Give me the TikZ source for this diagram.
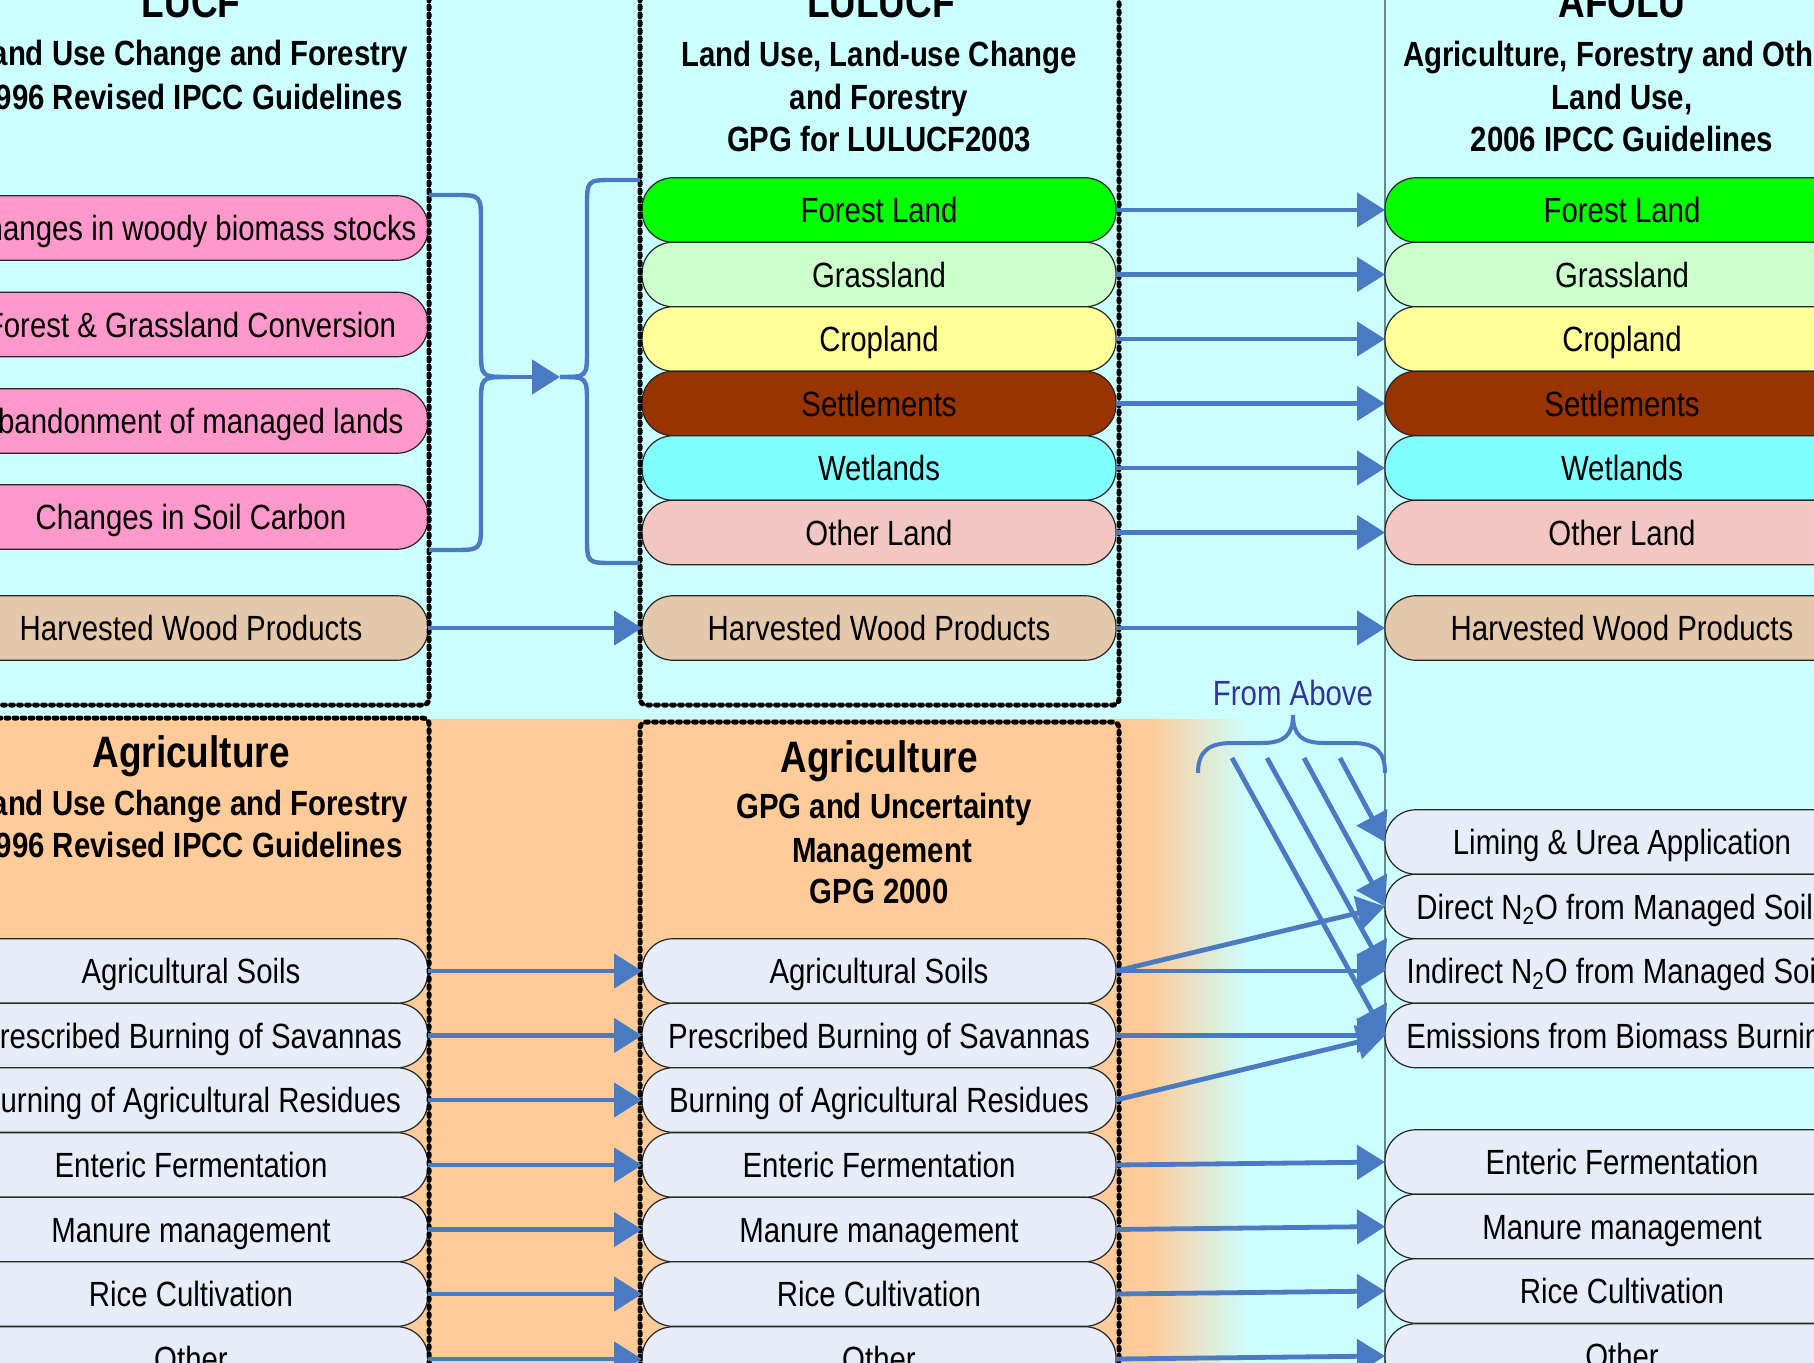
\documentclass[tikz,border=0pt]{standalone}
\usepackage{fontspec}
\setmainfont{Liberation Sans}[FakeStretch=0.84]
\usetikzlibrary{arrows.meta}
\definecolor{bgc}{HTML}{CCFFFF}
\definecolor{orangec}{HTML}{FFCC99}
\definecolor{pinkc}{HTML}{FF99CC}
\definecolor{hwpc}{HTML}{E3C8AC}
\definecolor{forestc}{HTML}{00FF00}
\definecolor{grassc}{HTML}{CCFFCC}
\definecolor{cropc}{HTML}{FFFF99}
\definecolor{settlec}{HTML}{993300}
\definecolor{wetc}{HTML}{80FFFF}
\definecolor{otherc}{HTML}{F2C7C3}
\definecolor{agric}{HTML}{E7EDF8}
\definecolor{arrowblue}{HTML}{4A7AC2}
\definecolor{abovec}{HTML}{333399}
\definecolor{vlinec}{HTML}{6A8A8A}
\begin{document}
\begin{tikzpicture}[x=0.5pt,y=-0.5pt,
  pill/.style={draw=black!85, line width=0.6pt, rounded corners=15.5pt,
    minimum width=237pt, minimum height=32.25pt, inner sep=0pt, outer sep=0pt,
    text height=12.8pt, text depth=0pt, font=\fontsize{17.5}{21}\selectfont},
  conn/.style={draw=arrowblue, line width=2.4pt, -{Triangle[length=14pt,width=17pt]}},
  bline/.style={draw=arrowblue, line width=2.2pt},
  dbox/.style={draw=black, line width=2.5pt, dash pattern=on 1.4pt off 2.6pt, line cap=round, rounded corners=3pt},
  ttl/.style={font=\fontsize{22}{26}\selectfont\bfseries, anchor=base, inner sep=0pt},
  sub/.style={font=\fontsize{17.5}{21}\selectfont\bfseries, anchor=base, inner sep=0pt}]
\useasboundingbox (0,0) rectangle (1814,1363);
\clip (0,0) rectangle (1814,1363);
% backgrounds
\fill[bgc] (0,0) rectangle (1814,1363);
\fill[orangec] (0,719) rectangle (1151,1363);
\shade[left color=orangec, right color=bgc] (1150,719) rectangle (1250,1363);
\draw[vlinec, line width=1pt] (1385,-5) -- (1385,1370);

% ---------- upper: column 1 ----------
\node[pill, fill=pinkc] (a1) at (191,228) {Changes in woody biomass stocks};
\node[pill, fill=pinkc] (a2) at (191,324.5) {Forest \& Grassland Conversion};
\node[pill, fill=pinkc] (a3) at (191,421) {Abandonment of managed lands};
\node[pill, fill=pinkc] (a4) at (191,517) {Changes in Soil Carbon};
\node[pill, fill=hwpc] (a5) at (191,628) {Harvested Wood Products};

% ---------- upper: column 2 ----------
\node[pill, fill=forestc] (b1) at (879,210) {Forest Land};
\node[pill, fill=grassc] (b2) at (879,274.5) {Grassland};
\node[pill, fill=cropc] (b3) at (879,339) {Cropland};
\node[pill, fill=settlec] (b4) at (879,403.5) {Settlements};
\node[pill, fill=wetc] (b5) at (879,468) {Wetlands};
\node[pill, fill=otherc] (b6) at (879,532.5) {Other Land};
\node[pill, fill=hwpc] (b7) at (879,628) {Harvested Wood Products};

% ---------- upper: column 3 ----------
\node[pill, fill=forestc] (c1) at (1622,210) {Forest Land};
\node[pill, fill=grassc] (c2) at (1622,274.5) {Grassland};
\node[pill, fill=cropc] (c3) at (1622,339) {Cropland};
\node[pill, fill=settlec] (c4) at (1622,403.5) {Settlements};
\node[pill, fill=wetc] (c5) at (1622,468) {Wetlands};
\node[pill, fill=otherc] (c6) at (1622,532.5) {Other Land};
\node[pill, fill=hwpc] (c7) at (1622,628) {Harvested Wood Products};

% ---------- lower: column 1 ----------
\node[pill, fill=agric] (d1) at (191,971) {Agricultural Soils};
\node[pill, fill=agric] (d2) at (191,1035.5) {Prescribed Burning of Savannas};
\node[pill, fill=agric] (d3) at (191,1100) {Burning of Agricultural Residues};
\node[pill, fill=agric] (d4) at (191,1165) {Enteric Fermentation};
\node[pill, fill=agric] (d5) at (191,1229.5) {Manure management};
\node[pill, fill=agric] (d6) at (191,1294) {Rice Cultivation};
\node[pill, fill=agric] (d7) at (191,1359) {Other};

% ---------- lower: column 2 ----------
\node[pill, fill=agric] (e1) at (879,971) {Agricultural Soils};
\node[pill, fill=agric] (e2) at (879,1035.5) {Prescribed Burning of Savannas};
\node[pill, fill=agric] (e3) at (879,1100) {Burning of Agricultural Residues};
\node[pill, fill=agric] (e4) at (879,1165) {Enteric Fermentation};
\node[pill, fill=agric] (e5) at (879,1229.5) {Manure management};
\node[pill, fill=agric] (e6) at (879,1294) {Rice Cultivation};
\node[pill, fill=agric] (e7) at (879,1359) {Other};

% ---------- lower: column 3 ----------
\node[pill, fill=agric] (f1) at (1622,842) {Liming \& Urea Application};
\node[pill, fill=agric] (f2) at (1622,906.5) {Direct N\textsubscript{2}O from Managed Soils};
\node[pill, fill=agric] (f3) at (1622,971) {Indirect N\textsubscript{2}O from Managed Soils};
\node[pill, fill=agric] (f4) at (1622,1035.5) {Emissions from Biomass Burning};
\node[pill, fill=agric] (f5) at (1622,1162) {Enteric Fermentation};
\node[pill, fill=agric] (f6) at (1622,1226.5) {Manure management};
\node[pill, fill=agric] (f7) at (1622,1291) {Rice Cultivation};
\node[pill, fill=agric] (f8) at (1622,1356) {Other};

% ---------- dashed boxes ----------
\draw[dbox] (429,-10) -- (429,705) -- (-10,705);
\draw[dbox] (-10,718) -- (429,718) -- (429,1375);
\draw[dbox] (640,-10) -- (640,705) -- (1119,705) -- (1119,-10);
\draw[dbox] (640,1375) -- (640,722) -- (1119,722) -- (1119,1375);

% ---------- titles ----------
\node[ttl] (t1) at (191,18) {LUCF};
\node[sub] (t1a) at (191,66) {Land Use Change and Forestry};
\node[sub] (t1b) at (191,110) {1996 Revised IPCC Guidelines};
\node[ttl] (t2) at (881,18) {LULUCF};
\node[sub] (t2a) at (879,67) {Land Use, Land-use Change};
\node[sub] (t2b) at (879,110) {and Forestry};
\node[sub] (t2c) at (879,152) {GPG for LULUCF2003};
\node[ttl] (t3) at (1622,18) {AFOLU};
\node[sub] (t3a) at (1622,67) {Agriculture, Forestry and Other};
\node[sub] (t3b) at (1622,110) {Land Use,};
\node[sub] (t3c) at (1622,152) {2006 IPCC Guidelines};
\node[ttl] (t4) at (191,767) {Agriculture};
\node[sub] (t4a) at (191,815) {Land Use Change and Forestry};
\node[sub] (t4b) at (191,857) {1996 Revised IPCC Guidelines};
\node[ttl] (t5) at (879,772) {Agriculture};
\node[sub] (t5a) at (884,818) {GPG and Uncertainty};
\node[sub] (t5b) at (882,862) {Management};
\node[sub] (t5c) at (879,903) {GPG 2000};

% ---------- bracket from column 1 to column 2 ----------
\coordinate (lbt) at (429,195);
\coordinate (lbb) at (429,550);
\coordinate (lbm) at (509,377);
\coordinate (rbm) at (560,377);
\coordinate (rbt) at (640,180);
\coordinate (rbb) at (640,563);
\draw[bline] (lbt) -- (453,195) .. controls (481,195) .. (481,223) -- (481,349) .. controls (481,377) .. (lbm);
\draw[bline] (lbb) -- (453,550) .. controls (481,550) .. (481,522) -- (481,405) .. controls (481,377) .. (lbm);
\draw[conn] (lbm) -- (rbm);
\draw[bline] (rbm) .. controls (587,377) .. (587,350) -- (587,207) .. controls (587,180) .. (614,180) -- (rbt);
\draw[bline] (rbm) .. controls (587,377) .. (587,404) -- (587,536) .. controls (587,563) .. (614,563) -- (rbb);

% ---------- upper arrows ----------
\draw[conn] (a5.east) -- (b7.west);
\foreach \i in {1,...,7} { \draw[conn] (b\i.east) -- (c\i.west); }

% ---------- lower arrows ----------
\foreach \i in {1,...,7} { \draw[conn] (d\i.east) -- (e\i.west); }
\draw[conn] (e1.east) -- (f2.west);
\draw[conn] (e1.east) -- (f3.west);
\draw[conn] (e2.east) -- (f4.west);
\draw[conn] (e3.east) -- (f4.west);
\draw[conn] (e4.east) -- (f5.west);
\draw[conn] (e5.east) -- (f6.west);
\draw[conn] (e6.east) -- (f7.west);
\draw[conn] (e7.east) -- (f8.west);

% ---------- From Above ----------
\node[anchor=base, inner sep=0pt, text=abovec, font=\fontsize{17.5}{21}\selectfont] (above) at (1293,705) {From Above};
\draw[bline, line width=2pt] (1198,773) .. controls (1198,752) and (1208,743) .. (1232,743) -- (1262,743)
  .. controls (1284,743) and (1293,735) .. (1293,715)
  .. controls (1293,735) and (1302,743) .. (1324,743) -- (1352,743)
  .. controls (1376,743) and (1385,752) .. (1385,773);
\coordinate (fa1) at (1232,758);
\coordinate (fa2) at (1267,758);
\coordinate (fa3) at (1304,758);
\coordinate (fa4) at (1340,758);
\draw[conn] (fa1) -- (f4.west);
\draw[conn] (fa2) -- (f3.west);
\draw[conn] (fa3) -- (f2.west);
\draw[conn] (fa4) -- (f1.west);
\end{tikzpicture}
\end{document}
